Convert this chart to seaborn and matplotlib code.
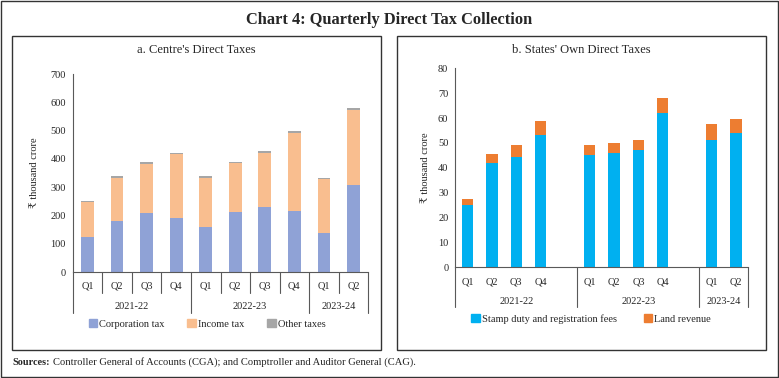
import matplotlib
matplotlib.use("Agg")
import matplotlib.pyplot as plt
import seaborn as sns
import pandas as pd
from matplotlib.patches import Rectangle, Patch

# data
years = ["2021-22", "2022-23", "2023-24"]
year_of = ["2021-22"] * 4 + ["2022-23"] * 4 + ["2023-24"] * 2
quarters = ["Q1", "Q2", "Q3", "Q4", "Q1", "Q2", "Q3", "Q4", "Q1", "Q2"]

corp_tax = [122, 182, 208, 190, 158, 212, 229, 215, 137, 309]
income_tax = [124, 152, 175, 226, 175, 172, 192, 277, 191, 264]
other_taxes = [5, 5, 6, 5, 5, 5, 6, 6, 5, 8]

stamp_duty = [25, 42, 44.5, 53, 45, 46, 47, 62, 51, 54]
land_revenue = [2.3, 3.7, 4.5, 6, 4, 4, 4, 6, 6.8, 5.8]

C_CORP = "#8FA2D6"
C_INC = "#F9BE8F"
C_OTH = "#A6A6A6"
C_STAMP = "#00B0F0"
C_LAND = "#ED7D31"
TXT = "#262626"

sns.set_style("white")
plt.rcParams["font.family"] = ["Liberation Serif", "DejaVu Serif", "DejaVu Sans"]

periods = [y + " " + q for y, q in zip(year_of, quarters)]
centre = pd.DataFrame({
    "period": periods,
    "corp": corp_tax,
    "corp_inc": [c + i for c, i in zip(corp_tax, income_tax)],
    "total": [c + i + o for c, i, o in zip(corp_tax, income_tax, other_taxes)],
})
states = pd.DataFrame({
    "period": periods,
    "stamp": stamp_duty,
    "total": [s + l for s, l in zip(stamp_duty, land_revenue)],
})

W, H = 779, 378
fig = plt.figure(figsize=(W / 100, H / 100), dpi=100)


def fx(px):
    return px / W


def fy(py):
    return 1 - py / H


# frames
fig.patches.append(Rectangle((fx(1), fy(377)), fx(777), 376 / H, transform=fig.transFigure,
                             fill=False, edgecolor="#333333", linewidth=1.0))
for x0, x1 in [(12, 381), (397, 766)]:
    fig.patches.append(Rectangle((fx(x0), fy(350)), fx(x1 - x0), (350 - 36) / H,
                                 transform=fig.transFigure, fill=False,
                                 edgecolor="#333333", linewidth=1.0))

fig.text(0.5, fy(20), "Chart 4: Quarterly Direct Tax Collection", ha="center", va="center",
         fontsize=11.8, fontweight="bold", color=TXT)
fig.text(fx(12), fy(365), "Sources:", ha="left", va="baseline", fontsize=7.4,
         fontweight="bold", color=TXT)
fig.text(fx(53), fy(365), "Controller General of Accounts (CGA); and Comptroller and Auditor General (CAG).",
         ha="left", va="baseline", fontsize=7.6, color=TXT)

ax1 = fig.add_axes([fx(72.7), fy(272), fx(368.3 - 72.7), 198 / H])
ax2 = fig.add_axes([fx(455.3), fy(267.3), fx(748.3 - 455.3), 199 / H])

fig.text(fx(196.5), fy(50), "a. Centre's Direct Taxes", ha="center", va="center",
         fontsize=9, color=TXT)
fig.text(fx(581.5), fy(50), "b. States' Own Direct Taxes", ha="center", va="center",
         fontsize=9, color=TXT)

# left panel: stacked by overlapping cumulative bars
order1 = periods
for col, c in [("total", C_OTH), ("corp_inc", C_INC), ("corp", C_CORP)]:
    sns.barplot(data=centre, x="period", y=col, order=order1, color=c, saturation=1,
                width=0.43, linewidth=0, ax=ax1, errorbar=None)

# right panel with gap slots between years
order2 = periods[:4] + ["gap1"] + periods[4:8] + ["gap2"] + periods[8:]
for col, c in [("total", C_LAND), ("stamp", C_STAMP)]:
    sns.barplot(data=states, x="period", y=col, order=order2, color=c, saturation=1,
                width=0.46, linewidth=0, ax=ax2, errorbar=None)

q_labels2 = quarters[:4] + [""] + quarters[4:8] + [""] + quarters[8:]

for ax, order, labels, ymax, step in [(ax1, order1, quarters, 700, 100),
                                      (ax2, order2, q_labels2, 80, 10)]:
    ax.set_xlim(-0.5, len(order) - 0.5)
    ax.set_ylim(0, ymax)
    ax.set_yticks(range(0, ymax + 1, step))
    ax.set_xticks(range(len(order)))
    ax.set_xticklabels(labels)
    ax.set_xlabel("")
    ax.set_ylabel("₹ thousand crore", fontsize=7.5, color=TXT)
    for s in ["top", "right"]:
        ax.spines[s].set_visible(False)
    for s in ["left", "bottom"]:
        ax.spines[s].set_color("#595959")
        ax.spines[s].set_linewidth(0.8)
    ax.tick_params(axis="y", length=3, width=0.8, color="#595959", labelsize=7.5,
                   labelcolor=TXT, pad=2)
    ax.tick_params(axis="x", length=0, labelsize=7.5, labelcolor=TXT, pad=7)

ax1.yaxis.labelpad = 8
ax2.yaxis.labelpad = 5.5

tr1 = ax1.get_xaxis_transform()
for x in [0.5, 1.5, 2.5, 4.5, 5.5, 6.5, 8.5]:
    ax1.plot([x, x], [0, -0.105], transform=tr1, clip_on=False, color="#595959", lw=0.8)
for x in [-0.5, 3.5, 7.5, 9.5]:
    ax1.plot([x, x], [0, -0.206], transform=tr1, clip_on=False, color="#595959", lw=0.8)
for y, (a, b) in zip(years, [(-0.5, 3.5), (3.5, 7.5), (7.5, 9.5)]):
    ax1.text((a + b) / 2, -0.172, y, transform=tr1, ha="center", va="center",
             fontsize=7.5, color=TXT)

tr2 = ax2.get_xaxis_transform()
for x in [-0.5, 4.5, 9.5, 11.5]:
    ax2.plot([x, x], [0, -0.201], transform=tr2, clip_on=False, color="#595959", lw=0.8)
for y, (a, b) in zip(years, [(-0.5, 4.5), (4.5, 9.5), (9.5, 11.5)]):
    ax2.text((a + b) / 2, -0.17, y, transform=tr2, ha="center", va="center",
             fontsize=7.5, color=TXT)

leg_kw = dict(loc="center", frameon=False, fontsize=7.5, handlelength=0.8,
              handleheight=0.8, handletextpad=0.2, borderaxespad=0, labelcolor=TXT)
fig.legend(handles=[Patch(color=C_CORP, label="Corporation tax"),
                    Patch(color=C_INC, label="Income tax"),
                    Patch(color=C_OTH, label="Other taxes")],
           ncol=3, columnspacing=2.2, bbox_to_anchor=(fx(207), fy(324)), **leg_kw)
fig.legend(handles=[Patch(color=C_STAMP, label="Stamp duty and registration fees"),
                    Patch(color=C_LAND, label="Land revenue")],
           ncol=2, columnspacing=2.6, bbox_to_anchor=(fx(591), fy(319)), **leg_kw)

fig.savefig("out.png", dpi=100)
